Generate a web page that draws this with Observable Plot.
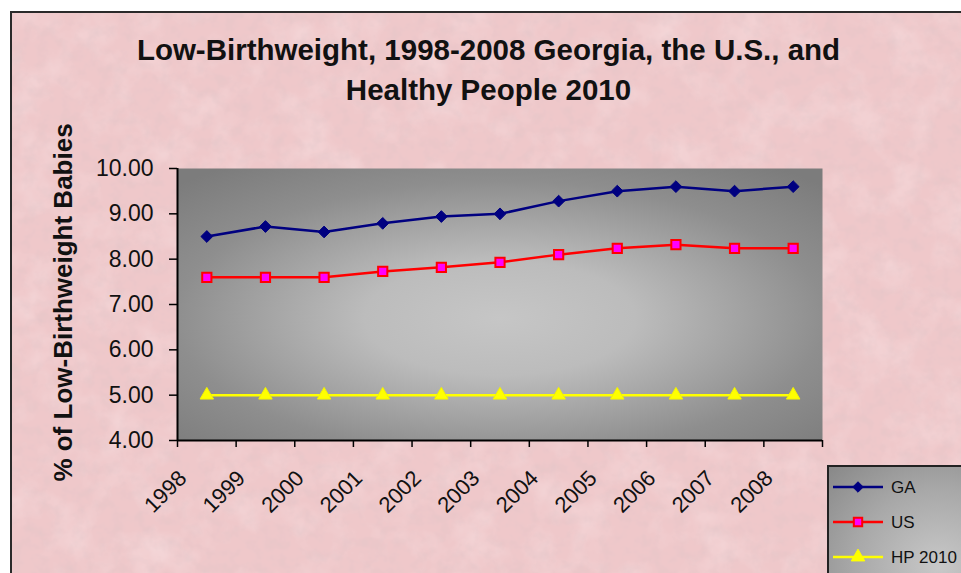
<!DOCTYPE html>
<html>
<head>
<meta charset="utf-8">
<script src="https://cdn.jsdelivr.net/npm/d3@7"></script>
<script src="https://cdn.jsdelivr.net/npm/@observablehq/plot@0.6"></script>
<style>
  html, body { margin: 0; padding: 0; background: #fff; }
  #wrap { position: relative; width: 961px; height: 573px; overflow: hidden; font-family: "Liberation Sans", Arial, sans-serif; }
  #card { position: absolute; left: 10px; top: 11px; width: 975px; height: 590px; border: 2px solid #2a2a2a; background: #efc8ca; overflow: hidden; }
  #card svg { position: absolute; left: 0; top: 0; }
  #title { position: relative; box-sizing: border-box; width: 961px; height: 112px; padding: 30px 0 0 16px; text-align: center; font-weight: bold; font-size: 29.5px; line-height: 40px; color: #111; }
  #chart { position: relative; height: 461px; }
  #legend { position: absolute; left: 827px; top: 465px; width: 200px; height: 200px; border: 2px solid #222;
            background: radial-gradient(ellipse at 55% 50%, #c8c8c8 0%, #a8a8a8 55%, #888 100%); }
  #legend svg { position: absolute; left: 0; top: 0; }
</style>
</head>
<body>
<div id="wrap">
  <div id="card">
    <svg width="975" height="590">
      <defs>
        <filter id="noise" x="0" y="0" width="100%" height="100%">
          <feTurbulence type="fractalNoise" baseFrequency="0.025" numOctaves="4" seed="7" result="t"/>
          <feColorMatrix in="t" type="matrix" values="0 0 0 0 1  0 0 0 0 0.93  0 0 0 0 0.94  0.6 0 0 0 -0.27"/>
        </filter>
        <filter id="noise2" x="0" y="0" width="100%" height="100%">
          <feTurbulence type="fractalNoise" baseFrequency="0.08" numOctaves="3" seed="3" result="t"/>
          <feColorMatrix in="t" type="matrix" values="0 0 0 0 0.72  0 0 0 0 0.55  0 0 0 0 0.57  0 0.8 0 0 -0.34"/>
        </filter>
      </defs>
      <rect width="975" height="590" filter="url(#noise)"/>
      <rect width="975" height="590" filter="url(#noise2)"/>
    </svg>
  </div>
  <div id="title">Low-Birthweight, 1998-2008 Georgia, the U.S., and<br>Healthy People 2010</div>
  <div id="chart"></div>
  <div id="legend"></div>
</div>
<script>
// ---- data ----
const years = [1998, 1999, 2000, 2001, 2002, 2003, 2004, 2005, 2006, 2007, 2008];
const gaValues = [8.50, 8.72, 8.60, 8.79, 8.94, 9.00, 9.28, 9.50, 9.60, 9.50, 9.60];
const usValues = [7.60, 7.60, 7.60, 7.73, 7.82, 7.93, 8.10, 8.24, 8.32, 8.24, 8.24];
const hpValues = [5.00, 5.00, 5.00, 5.00, 5.00, 5.00, 5.00, 5.00, 5.00, 5.00, 5.00];
const seriesNames = ["GA", "US", "HP 2010"];
const yTicks = [4, 5, 6, 7, 8, 9, 10];
const yLabel = "% of Low-Birthweight Babies";

const rows = [];
years.forEach((yr, i) => {
  rows.push({year: yr, series: "GA", value: gaValues[i]});
  rows.push({year: yr, series: "US", value: usValues[i]});
  rows.push({year: yr, series: "HP 2010", value: hpValues[i]});
});
const ga = rows.filter(d => d.series === "GA");
const us = rows.filter(d => d.series === "US");
const hp = rows.filter(d => d.series === "HP 2010");

const xDomain = [years[0] - 0.5, years[years.length - 1] + 0.5];
const boundaries = years.map(y => y - 0.5).concat([years[years.length - 1] + 0.5]);

const chart = Plot.plot({
  width: 961,
  height: 461,
  marginLeft: 177,
  marginRight: 139,
  marginTop: 56,
  marginBottom: 133,
  x: {type: "linear", domain: xDomain},
  y: {domain: [4, 10]},
  style: {background: "transparent", fontFamily: "'Liberation Sans', Arial, sans-serif", color: "#111", overflow: "visible"},
  marks: [
    Plot.frame({fill: "url(#plotGrad)", stroke: null}),
    Plot.line(hp, {x: "year", y: "value", stroke: "#ffff00", strokeWidth: 2.5}),
    Plot.dot(hp, {x: "year", y: "value", symbol: "triangle", r: 5, fill: "#ffff00", stroke: "#f4f400", strokeWidth: 1}),
    Plot.line(us, {x: "year", y: "value", stroke: "#ff0000", strokeWidth: 2.5}),
    Plot.dot(us, {x: "year", y: "value", symbol: "square", r: 5.2, fill: "#ff00ff", stroke: "#ff0000", strokeWidth: 2}),
    Plot.line(ga, {x: "year", y: "value", stroke: "#000080", strokeWidth: 2.5}),
    Plot.dot(ga, {x: "year", y: "value", symbol: "diamond2", r: 5.3, fill: "#000080", stroke: "#000080", strokeWidth: 1}),
    Plot.axisY({ticks: yTicks, tickFormat: d3.format(".2f"), tickSize: 8, tickPadding: 16, fontSize: 23, stroke: "#000", strokeWidth: 1.5, fill: "#111", label: null}),
    Plot.axisX({ticks: boundaries, tickFormat: () => "", tickSize: 7, stroke: "#000", strokeWidth: 1.5, label: null}),
    Plot.ruleX([xDomain[0]], {stroke: "#000", strokeWidth: 2}),
    Plot.ruleY([4], {stroke: "#000", strokeWidth: 2}),
    Plot.text(years, {x: d => d, text: d => String(d), frameAnchor: "bottom", rotate: -45, textAnchor: "end", dx: -19, dy: 39, fontSize: 22, fill: "#111"}),
    Plot.text([yLabel], {text: d => d, frameAnchor: "left", textAnchor: "middle", rotate: -90, dx: -114, dy: -2, fontSize: 26, fontWeight: "bold", fill: "#111"})
  ]
});

const defs = d3.select(chart).insert("defs", ":first-child");
const grad = defs.append("radialGradient").attr("id", "plotGrad")
  .attr("cx", "0.5").attr("cy", "0.55").attr("r", "0.7");
grad.append("stop").attr("offset", "0").attr("stop-color", "#c6c6c6");
grad.append("stop").attr("offset", "0.3").attr("stop-color", "#bcbcbc");
grad.append("stop").attr("offset", "0.72").attr("stop-color", "#8e8e8e");
grad.append("stop").attr("offset", "1").attr("stop-color", "#7c7c7c");
document.getElementById("chart").appendChild(chart);

// ---- legend ----
const styles = {
  "GA": {stroke: "#000080", fill: "#000080", symbol: d3.symbolDiamond2, size: 70},
  "US": {stroke: "#ff0000", fill: "#ff00ff", symbol: d3.symbolSquare, size: 70},
  "HP 2010": {stroke: "#ffff00", fill: "#ffff00", symbol: d3.symbolTriangle, size: 80}
};
const lg = d3.select("#legend").append("svg").attr("width", 200).attr("height", 200);
seriesNames.forEach((name, i) => {
  const s = styles[name];
  const cy = 20 + i * 35;
  lg.append("line").attr("x1", 4).attr("x2", 54).attr("y1", cy).attr("y2", cy)
    .attr("stroke", s.stroke).attr("stroke-width", 2.5);
  lg.append("path").attr("d", d3.symbol(s.symbol, s.size)())
    .attr("transform", `translate(29,${cy})`)
    .attr("fill", s.fill).attr("stroke", s.stroke).attr("stroke-width", name === "US" ? 2 : 1);
  lg.append("text").attr("x", 62).attr("y", cy).attr("dy", "0.35em")
    .attr("font-size", 17).attr("fill", "#111")
    .attr("font-family", "'Liberation Sans', Arial, sans-serif")
    .text(name);
});
</script>
</body>
</html>
